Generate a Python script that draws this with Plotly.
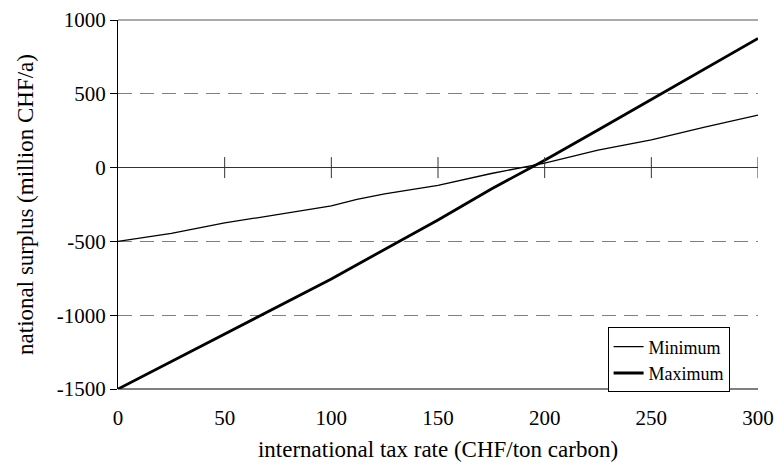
import plotly.graph_objects as go

tax_rate = [0, 25, 50, 75, 100, 112, 125, 150, 175, 200, 225, 250, 275, 300]
minimum = [-500, -445, -375, -318, -260, -215, -178, -120, -40, 30, 118, 188, 275, 355]
maximum = [-1500, -1315, -1130, -940, -755, -658, -555, -355, -145, 50, 255, 460, 665, 875]

x_ticks = [0, 50, 100, 150, 200, 250, 300]
y_ticks = [-1500, -1000, -500, 0, 500, 1000]
y_tick_labels = ["-1500", "-1000", "-500", "0", "500", "1000"]

FONT = "Liberation Serif"

fig = go.Figure()
fig.add_trace(go.Scatter(x=tax_rate, y=minimum, mode="lines", name="Minimum",
                         line=dict(color="black", width=1.3)))
fig.add_trace(go.Scatter(x=tax_rate, y=maximum, mode="lines", name="Maximum",
                         line=dict(color="black", width=2.8)))
# tick marks on the zero line
fig.add_trace(go.Scatter(x=x_ticks[1:], y=[0] * (len(x_ticks) - 1), mode="markers",
                         marker=dict(symbol="line-ns", size=15,
                                     line=dict(color="#333", width=1)),
                         showlegend=False, hoverinfo="skip"))

fig.update_layout(
    width=776, height=464,
    margin=dict(l=118, r=18, t=20, b=75),
    paper_bgcolor="white", plot_bgcolor="white",
    font=dict(family=FONT, size=21, color="black"),
    showlegend=True,
    legend=dict(x=0.765, y=0.167, xanchor="left", yanchor="top",
                bordercolor="black", borderwidth=1, bgcolor="white",
                font=dict(family=FONT, size=18), tracegroupgap=0,
                itemwidth=30),
    xaxis=dict(range=[0, 300], tickvals=x_ticks, showgrid=False, zeroline=False,
               showline=False, ticks="outside", ticklen=10, tickcolor="rgba(0,0,0,0)",
               automargin=False,
               title=dict(text="international tax rate (CHF/ton carbon)",
                          font=dict(family=FONT, size=23), standoff=11),
               tickfont=dict(family=FONT, size=21)),
    yaxis=dict(range=[-1500, 1000], tickvals=y_ticks, ticktext=y_tick_labels,
               showgrid=True, gridcolor="#808080", griddash="14px,8px", gridwidth=1.3,
               zeroline=True, zerolinecolor="#333", zerolinewidth=1,
               showline=True, linecolor="black", linewidth=1.2,
               ticks="outside", ticklen=7, tickcolor="black",
               automargin=False,
               title=dict(text="national surplus (million CHF/a)",
                          font=dict(family=FONT, size=23), standoff=16),
               tickfont=dict(family=FONT, size=21)),
)
# frame: bottom axis line and top line
fig.add_shape(type="line", xref="paper", yref="y domain", x0=0, x1=1, y0=0, y1=0,
              line=dict(color="black", width=1.2))
fig.add_shape(type="line", xref="paper", yref="y domain", x0=0, x1=1, y0=1, y1=1,
              line=dict(color="#555", width=1.2))

fig.write_html("out.html", config={"displayModeBar": False},
               post_script="document.body.style.margin='0';document.body.style.padding='0';")
